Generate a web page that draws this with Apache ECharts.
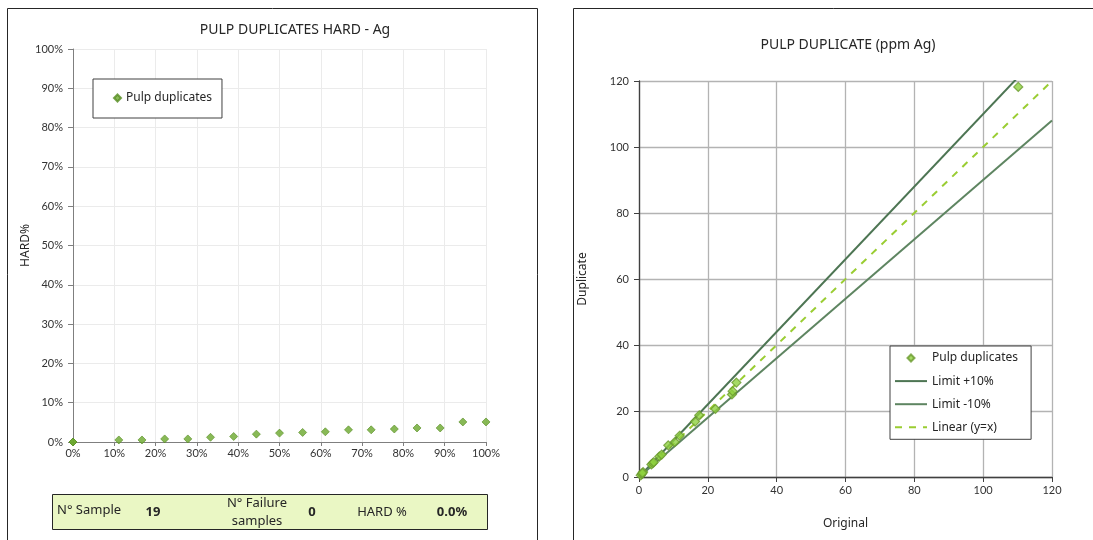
<!DOCTYPE html>
<html>
<head>
<meta charset="utf-8">
<script src="https://cdn.jsdelivr.net/npm/echarts@6/dist/echarts.min.js"></script>
<style>
html,body{margin:0;padding:0;background:#fff;}
#c{width:1093px;height:540px;}
</style>
</head>
<body>
<div id="c"></div>
<script>
// ---- Left chart data (HARD) ----
const hardRank = [0, 0, 0.111, 0.167, 0.222, 0.278, 0.333, 0.389, 0.444, 0.5, 0.556, 0.611, 0.667, 0.722, 0.778, 0.833, 0.889, 0.944, 1.0];
const hardValue = [0, 0, 0.0052, 0.0052, 0.0078, 0.0078, 0.012, 0.014, 0.020, 0.0226, 0.0243, 0.026, 0.031, 0.031, 0.033, 0.0357, 0.0357, 0.051, 0.051];
const pctTicks = ['0%','10%','20%','30%','40%','50%','60%','70%','80%','90%','100%'];

// ---- Right chart data (duplicates) ----
const original  = [0.5, 0.8, 1.2, 3.6, 4.0, 4.3, 5.9, 6.6, 8.5, 10.4, 11.8, 16.3, 17.5, 22.2, 27.0, 27.2, 28.3, 110.2, 1.0];
const duplicate = [0.5, 0.9, 1.5, 3.8, 4.2, 4.5, 6.2, 6.8, 9.6, 10.6, 12.5, 16.8, 18.7, 20.6, 25.0, 26.0, 28.6, 118.2, 1.2];
const limitPlus  = [[0, 0], [120, 132]];
const limitMinus = [[0, 0], [120, 108]];
const linearYX   = [[0, 0], [120, 120]];

// ---- Summary table ----
const summaryLabels = ['N° Sample', 'N° Failure\nsamples', 'HARD %'];
const summaryValues = ['19', '0', '0.0%'];

const tickFont = 'Lato, "Liberation Sans", sans-serif';
const titleFont = '"Noto Sans", "Open Sans", sans-serif';
const wideDiamond = 'path://M0 7M32 7M16 3.5L19.5 7L16 10.5L12.5 7Z';

const chart = echarts.init(document.getElementById('c'), null, {renderer: 'canvas'});

const hardData = hardRank.map((r, i) => [r, hardValue[i]]);
const dupData = original.map((o, i) => [o, duplicate[i]]);
const hideSym = {opacity: 0};

const option = {
  animation: false,
  backgroundColor: '#ffffff',
  title: [
    {text: 'PULP DUPLICATES HARD - Ag', left: 290, top: 18, textAlign: 'center',
     textStyle: {fontFamily: titleFont, fontSize: 14, fontWeight: 'normal', color: '#262626'}},
    {text: 'PULP DUPLICATE (ppm Ag)', left: 843, top: 33, textAlign: 'center',
     textStyle: {fontFamily: titleFont, fontSize: 14, fontWeight: 'normal', color: '#262626'}}
  ],
  legend: [
    {data: [{name: 'Pulp duplicates', icon: 'diamond'}], left: 93, top: 79, orient: 'vertical',
     padding: [13, 10, 14, 20], itemWidth: 7, itemHeight: 7, itemGap: 5,
     borderColor: '#404040', borderWidth: 1, backgroundColor: '#fff',
     textStyle: {fontFamily: titleFont, fontSize: 12, color: '#262626'}},
    {data: [{name: 'Pulp duplicates ', icon: wideDiamond},
            {name: 'Limit +10%', itemStyle: hideSym},
            {name: 'Limit -10%', itemStyle: hideSym},
            {name: 'Linear (y=x)', itemStyle: hideSym}],
     left: 890, top: 346, orient: 'vertical', padding: [6, 10, 6, 4], itemWidth: 32, itemHeight: 14, itemGap: 11.1,
     borderColor: '#404040', borderWidth: 1, backgroundColor: '#fff',
     textStyle: {fontFamily: titleFont, fontSize: 12, color: '#262626'}}
  ],
  grid: [
    {left: 73, top: 49, width: 413, height: 393},
    {left: 639, top: 81, width: 413, height: 396}
  ],
  xAxis: [
    {gridIndex: 0, type: 'value', min: 0, max: 1, interval: 0.1,
     axisLine: {show: true, lineStyle: {color: '#7f7f7f'}},
     axisTick: {show: true, length: 4, lineStyle: {color: '#7f7f7f'}},
     axisLabel: {fontFamily: tickFont, fontSize: 11, color: '#333', margin: 6,
       formatter: v => pctTicks[Math.round(v * 10)]},
     splitLine: {show: true, lineStyle: {color: '#ebebeb'}}},
    {gridIndex: 1, type: 'value', min: 0, max: 120, interval: 20,
     name: 'Original', nameLocation: 'middle', nameGap: 41,
     nameTextStyle: {fontFamily: titleFont, fontSize: 12, color: '#262626'},
     axisLine: {show: true, lineStyle: {color: '#404040', width: 1.3}},
     axisTick: {show: true, length: 5, lineStyle: {color: '#404040'}},
     axisLabel: {fontFamily: tickFont, fontSize: 11, color: '#333', margin: 8},
     splitLine: {show: true, lineStyle: {color: '#b3b3b3', width: 1.3}}}
  ],
  yAxis: [
    {gridIndex: 0, type: 'value', min: 0, max: 1, interval: 0.1,
     name: 'HARD%', nameLocation: 'middle', nameGap: 34,
     nameTextStyle: {fontFamily: titleFont, fontSize: 12, color: '#262626'},
     axisLine: {show: true, lineStyle: {color: '#7f7f7f'}},
     axisTick: {show: true, length: 5, lineStyle: {color: '#7f7f7f'}},
     axisLabel: {fontFamily: tickFont, fontSize: 11, color: '#333', margin: 10,
       formatter: v => pctTicks[Math.round(v * 10)]},
     splitLine: {show: true, lineStyle: {color: '#ebebeb'}}},
    {gridIndex: 1, type: 'value', min: 0, max: 120, interval: 20,
     name: 'Duplicate', nameLocation: 'middle', nameGap: 50,
     nameTextStyle: {fontFamily: titleFont, fontSize: 12, color: '#262626'},
     axisLine: {show: true, lineStyle: {color: '#404040', width: 1.3}},
     axisTick: {show: true, length: 5, lineStyle: {color: '#404040'}},
     axisLabel: {fontFamily: tickFont, fontSize: 11, color: '#333', margin: 10},
     splitLine: {show: true, lineStyle: {color: '#b3b3b3', width: 1.3}}}
  ],
  series: [
    {name: 'Pulp duplicates', type: 'scatter', xAxisIndex: 0, yAxisIndex: 0,
     data: hardData, symbol: 'diamond', symbolSize: 8,
     itemStyle: {color: '#6aa72c', borderColor: '#568c22', borderWidth: 0.8}},
    {name: 'Limit +10%', type: 'line', xAxisIndex: 1, yAxisIndex: 1, data: limitPlus,
     symbol: 'none', clip: true, lineStyle: {color: '#4d7553', width: 2}, itemStyle: {color: '#4d7553'}},
    {name: 'Limit -10%', type: 'line', xAxisIndex: 1, yAxisIndex: 1, data: limitMinus,
     symbol: 'none', clip: true, lineStyle: {color: '#5e8561', width: 2}, itemStyle: {color: '#7fa583'}},
    {name: 'Linear (y=x)', type: 'line', xAxisIndex: 1, yAxisIndex: 1, data: linearYX,
     symbol: 'none', clip: true, lineStyle: {color: '#9acd32', width: 2, type: [7, 7]}, itemStyle: {color: '#9acd32'}},
    {name: 'Pulp duplicates ', type: 'scatter', xAxisIndex: 1, yAxisIndex: 1,
     data: dupData, symbol: 'diamond', symbolSize: 9, z: 5,
     itemStyle: {color: '#8fd13f', borderColor: '#6a9a2e', borderWidth: 1.2}}
  ],
  graphic: [
    {type: 'rect', shape: {x: 7.5, y: 8.5, width: 530, height: 560}, silent: true, z: -10,
     style: {fill: 'none', stroke: '#262626', lineWidth: 1}},
    {type: 'rect', shape: {x: 573.5, y: 8.5, width: 540, height: 560}, silent: true, z: -10,
     style: {fill: 'none', stroke: '#262626', lineWidth: 1}},
    {type: 'rect', shape: {x: 52.5, y: 494.5, width: 435, height: 35}, silent: true,
     style: {fill: '#eaf7c4', stroke: '#262626', lineWidth: 1}},
    {type: 'text', left: 57, top: 504, style: {text: summaryLabels[0], font: '13px "Noto Sans", sans-serif', fill: '#262626'}},
    {type: 'text', x: 153, y: 512, style: {text: summaryValues[0], font: 'bold 13px "Noto Sans", sans-serif', fill: '#262626', textAlign: 'center', textVerticalAlign: 'middle'}},
    {type: 'text', x: 257, y: 512, style: {text: summaryLabels[1], font: '13px "Noto Sans", sans-serif', fill: '#262626', textAlign: 'center', textVerticalAlign: 'middle', lineHeight: 18}},
    {type: 'text', x: 312, y: 512, style: {text: summaryValues[1], font: 'bold 13px "Noto Sans", sans-serif', fill: '#262626', textAlign: 'center', textVerticalAlign: 'middle'}},
    {type: 'text', x: 382, y: 512, style: {text: summaryLabels[2], font: '13px "Noto Sans", sans-serif', fill: '#262626', textAlign: 'center', textVerticalAlign: 'middle'}},
    {type: 'text', x: 452, y: 512, style: {text: summaryValues[2], font: 'bold 13px "Noto Sans", sans-serif', fill: '#262626', textAlign: 'center', textVerticalAlign: 'middle'}}
  ]
};
chart.setOption(option);
</script>
</body>
</html>
